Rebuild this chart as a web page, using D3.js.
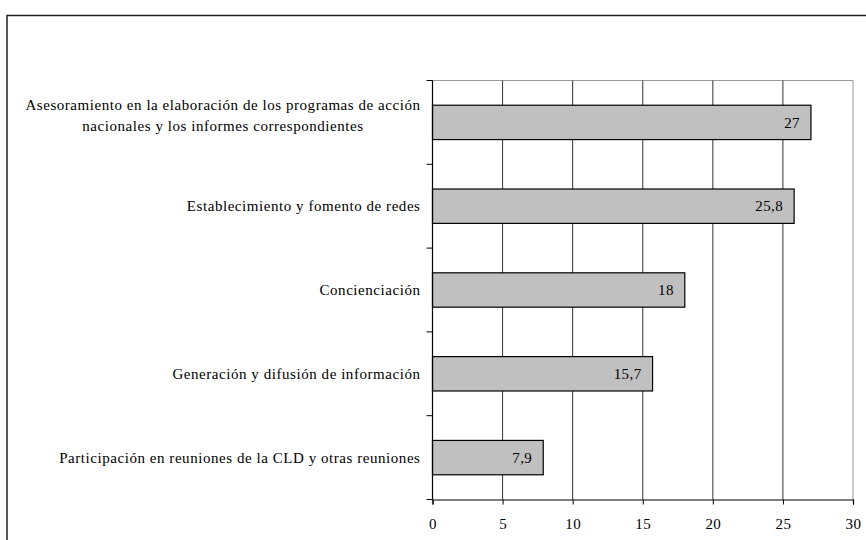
<!DOCTYPE html>
<html>
<head>
<meta charset="utf-8">
<script src="https://cdn.jsdelivr.net/npm/d3@7"></script>
<style>
  body { margin: 0; background: #fff; }
</style>
</head>
<body>
<div id="vis"></div>
<script>
'use strict';

// Category labels (one entry per bar, lines split for wrapping)
const categories = [
  ['Asesoramiento en la elaboración de los programas de acción', 'nacionales y los informes correspondientes'],
  ['Establecimiento y fomento de redes'],
  ['Concienciación'],
  ['Generación y difusión de información'],
  ['Participación en reuniones de la CLD y otras reuniones']
];

// Values shown on each bar
const values = [27, 25.8, 18, 15.7, 7.9];

// Ticks on the value axis
const xTicks = [0, 5, 10, 15, 20, 25, 30];

const width = 866;
const height = 540;
const margin = { top: 80.5, right: 13, bottom: 40.5, left: 432.5 };
const innerW = width - margin.left - margin.right;
const innerH = height - margin.top - margin.bottom;
const serif = '"Liberation Serif", "Times New Roman", serif';

const fmt = v => String(v).replace('.', ',');

const svg = d3.select('#vis')
  .append('svg')
  .attr('width', width)
  .attr('height', height);

// outer frame, runs past the window on the right and bottom
svg.append('rect')
  .attr('x', 7)
  .attr('y', 15.5)
  .attr('width', 900)
  .attr('height', 600)
  .attr('fill', 'none')
  .attr('stroke', '#222')
  .attr('stroke-width', 1.5);

const g = svg.append('g')
  .attr('transform', `translate(${margin.left},${margin.top})`);

const x = d3.scaleLinear().domain([0, 30]).range([0, innerW]);
const y = d3.scaleBand()
  .domain(d3.range(categories.length))
  .range([0, innerH])
  .paddingInner(0.59)
  .paddingOuter(0.295);

// plot frame (top and right, light gray)
g.append('path')
  .attr('d', `M0,0H${x(30)}V${innerH}`)
  .attr('fill', 'none')
  .attr('stroke', '#999')
  .attr('stroke-width', 1);

// vertical gridlines
g.selectAll('.grid')
  .data(xTicks.filter(t => t > 0 && t < 30))
  .enter().append('line')
  .attr('class', 'grid')
  .attr('x1', d => x(d))
  .attr('x2', d => x(d))
  .attr('y1', 0)
  .attr('y2', innerH)
  .attr('stroke', '#333')
  .attr('stroke-width', 1);

// bars
g.selectAll('.bar')
  .data(values)
  .enter().append('rect')
  .attr('class', 'bar')
  .attr('x', x(0))
  .attr('y', (d, i) => y(i))
  .attr('width', d => x(d))
  .attr('height', y.bandwidth())
  .attr('fill', '#c0c0c0')
  .attr('stroke', '#000')
  .attr('stroke-width', 1.2);

// value labels
g.selectAll('.val')
  .data(values)
  .enter().append('text')
  .attr('class', 'val')
  .attr('x', d => x(d) - 11)
  .attr('y', (d, i) => y(i) + y.bandwidth() / 2)
  .attr('dy', '0.35em')
  .attr('text-anchor', 'end')
  .style('font-family', serif)
  .style('font-size', '15px')
  .style('letter-spacing', '0.4px')
  .text(d => fmt(d));

// left axis: line + ticks at band boundaries
const yAxis = g.append('g');
yAxis.append('line')
  .attr('x1', 0).attr('x2', 0)
  .attr('y1', 0).attr('y2', innerH)
  .attr('stroke', '#000').attr('stroke-width', 1.2);
yAxis.selectAll('line.tick')
  .data(d3.range(categories.length + 1))
  .enter().append('line')
  .attr('class', 'tick')
  .attr('x1', -6).attr('x2', 0)
  .attr('y1', i => i * innerH / categories.length)
  .attr('y2', i => i * innerH / categories.length)
  .attr('stroke', '#000');

// category labels
const labels = g.selectAll('.cat')
  .data(categories)
  .enter().append('text')
  .attr('class', 'cat')
  .attr('y', (d, i) => y(i) + y.bandwidth() / 2)
  .style('font-family', serif)
  .style('font-size', '15px')
  .style('letter-spacing', '0.55px');

labels.each(function (lines) {
  const t = d3.select(this);
  const lh = 21;
  // wrapped labels sit a little above the bar centre
  const y0 = -(lines.length - 1) * lh / 2 - (lines.length > 1 ? 7 : 0);
  const spans = lines.map(l => t.append('tspan').text(l));
  // centre multi-line labels within the right-aligned block
  const maxW = d3.max(spans.map(s => s.node().getComputedTextLength()));
  spans.forEach((s, k) => {
    s.attr('x', -12 - maxW / 2)
      .attr('text-anchor', 'middle')
      .attr('dy', k === 0 ? (y0 / 15 + 0.35) + 'em' : lh + 'px');
  });
});

// bottom axis
const xAxis = d3.axisBottom(x)
  .tickValues(xTicks)
  .tickSize(5)
  .tickPadding(14)
  .tickFormat(d3.format('d'));

g.append('g')
  .attr('transform', `translate(0,${innerH})`)
  .call(xAxis)
  .call(s => s.select('.domain').attr('stroke', '#000').attr('stroke-width', 1.2))
  .call(s => s.selectAll('.tick line').attr('stroke', '#000'))
  .call(s => s.selectAll('.tick text')
    .style('font-family', serif)
    .style('font-size', '15px')
    .style('letter-spacing', '0.4px'));
</script>
</body>
</html>
